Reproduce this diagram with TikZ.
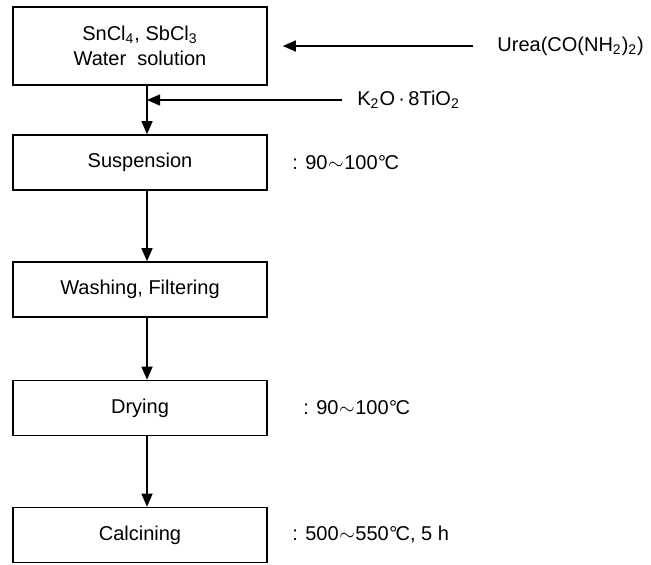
\documentclass[tikz,border=0pt]{standalone}
\usepackage{fontspec}
\setmainfont{Liberation Sans}
\usetikzlibrary{arrows.meta}
\newcommand{\degc}{\kern0.2pt°\kern-0.8pt C}
\newcommand{\range}{\kern0.3pt$\sim$\kern0.3pt}

\begin{document}
\begin{tikzpicture}[x=0.5pt, y=-0.5pt,
    every node/.style={font=\fontsize{10}{12.5}\selectfont, inner sep=0pt},
    stepbox/.style={draw, line width=0.8pt, minimum width=127pt, minimum height=27.5pt, align=center},
    flow/.style={line width=0.75pt, -{Triangle[length=6.5pt, width=5.5pt]}}]
    \useasboundingbox (0, 0) rectangle (651, 564);
    \node[stepbox, minimum height=39pt] (sol) at (140, 46) {SnCl\textsubscript{4}, SbCl\textsubscript{3}\\Water\ \ solution};
    \node[stepbox] (susp) at (140, 162.5) {Suspension};
    \node[stepbox] (wash) at (140, 289.5) {Washing, Filtering};
    \node[stepbox] (dry) at (140, 408) {Drying};
    \node[stepbox] (calc) at (140, 535) {Calcining};
    \node[anchor=west] (urea) at (497, 46) {Urea(CO(NH\textsubscript{2})\textsubscript{2})};
    \node[anchor=west] (k2o) at (357, 100) {K\textsubscript{2}O\,·\,8TiO\textsubscript{2}};
    \node[anchor=west] (tsusp) at (292, 162.5) {: 90\range100\degc};
    \node[anchor=west] (tdry) at (303, 408) {: 90\range100\degc};
    \node[anchor=west] (tcalc) at (292, 535) {: 500\range550\degc, 5 h};
    \coordinate (mix) at (147, 100);
    \draw[flow] ([xshift=-12pt]urea.west) -- ([xshift=7.5pt]sol.east);
    \draw[flow] ([xshift=-7.5pt]k2o.west) -- (mix);
    \draw[flow] ([xshift=3.5pt]sol.south) -- ([xshift=3.5pt]susp.north);
    \draw[flow] ([xshift=3.5pt]susp.south) -- ([xshift=3.5pt]wash.north);
    \draw[flow] ([xshift=3.5pt]wash.south) -- ([xshift=3.5pt]dry.north);
    \draw[flow] ([xshift=3.5pt]dry.south) -- ([xshift=3.5pt]calc.north);
\end{tikzpicture}
\end{document}
